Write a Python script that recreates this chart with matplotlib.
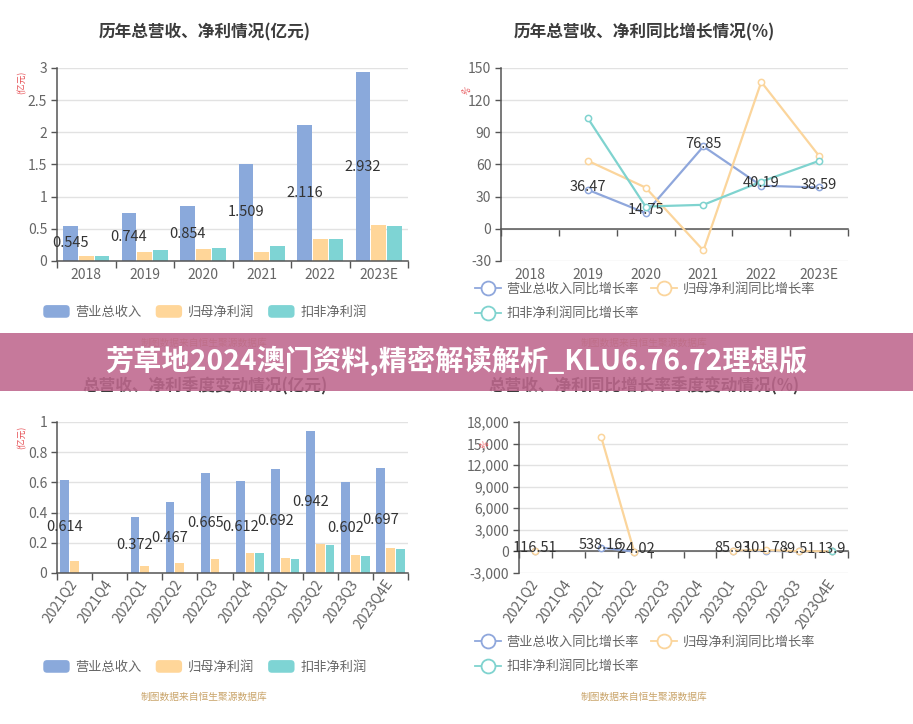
import matplotlib
matplotlib.use('Agg')
import matplotlib.pyplot as plt
import numpy as np
from matplotlib.patches import Patch, Rectangle, FancyBboxPatch
from matplotlib.lines import Line2D
from matplotlib.legend_handler import HandlerPatch
from matplotlib.ticker import FuncFormatter

plt.rcParams['font.family'] = ['Noto Sans CJK SC', 'DejaVu Sans']

# ---------------- data ----------------
years = ['2018', '2019', '2020', '2021', '2022', '2023E']
rev_year = [0.545, 0.744, 0.854, 1.509, 2.116, 2.932]
np_year = [0.078, 0.135, 0.187, 0.145, 0.343, 0.566]
dnp_year = [0.078, 0.166, 0.197, 0.234, 0.337, 0.540]

rev_yoy = [None, 36.47, 14.75, 76.85, 40.19, 38.59]
np_yoy = [None, 63.5, 38.5, -20.2, 137.0, 68.0]
dnp_yoy = [None, 103.3, 20.8, 22.4, 44.0, 63.4]

quarters = ['2021Q2', '2021Q4', '2022Q1', '2022Q2', '2022Q3', '2022Q4',
            '2023Q1', '2023Q2', '2023Q3', '2023Q4E']
rev_q = [0.614, None, 0.372, 0.467, 0.665, 0.612, 0.692, 0.942, 0.602, 0.697]
np_q = [0.078, None, 0.047, 0.064, 0.095, 0.135, 0.102, 0.190, 0.117, 0.164]
dnp_q = [None, None, None, None, None, 0.135, 0.091, 0.184, 0.111, 0.157]

rev_q_yoy = [116.51, None, 538.16, -24.02, None, None, 85.93, 101.78, -9.51, 13.9]
np_q_yoy = [60.0, None, 15900.0, -18.0, None, None, 117.0, 197.0, 23.0, 21.0]
dnp_q_yoy = [None, None, None, None, None, None, None, None, None, 16.0]

bar_names = ['营业总收入', '归母净利润', '扣非净利润']
line_names = ['营业总收入同比增长率', '归母净利润同比增长率', '扣非净利润同比增长率']
titles = ['历年总营收、净利情况(亿元)', '历年总营收、净利同比增长情况(%)',
          '总营收、净利季度变动情况(亿元)', '总营收、净利同比增长率季度变动情况(%)']
banner_text = '芳草地2024澳门资料,精密解读解析_KLU6.76.72理想版'
source_text = '制图数据来自恒生聚源数据库'

# ---------------- style ----------------
BLUE, ORANGE, TEAL = '#8aa9db', '#ffd699', '#7ed4d4'
LBLUE, LORANGE, LTEAL = '#8fa7dc', '#fbd59c', '#7fd3cf'
AXC = '#555555'
GRID = '#e2e2e2'
TICKC = '#666666'
LABC = '#333333'
TFS = 10      # tick font size
DFS = 10.5    # data label font size

W, H = 913, 724
fig = plt.figure(figsize=(W / 100, H / 100), dpi=100)


def fx(x):
    return x / W


def fy(y):
    return 1 - y / H


def add_ax(l, t, r, b):
    return fig.add_axes([l / W, 1 - b / H, (r - l) / W, (b - t) / H])


def arr(v):
    return np.array([np.nan if a is None else a for a in v], dtype=float)


def style(ax):
    for s in ['top', 'right']:
        ax.spines[s].set_visible(False)
    for s in ['left', 'bottom']:
        ax.spines[s].set_color(AXC)
        ax.spines[s].set_linewidth(1.1)
    ax.yaxis.grid(True, color=GRID, lw=1)
    ax.set_axisbelow(True)
    ax.tick_params(axis='y', length=4, width=1, color=AXC, labelsize=TFS,
                   labelcolor=TICKC, pad=3)


class RoundHandler(HandlerPatch):
    def create_artists(self, legend, orig_handle, xdescent, ydescent,
                       width, height, fontsize, trans):
        p = FancyBboxPatch((-xdescent, -ydescent), width, height,
                           boxstyle='round,pad=0,rounding_size=%f' % (height * 0.3),
                           facecolor=orig_handle.get_facecolor(), edgecolor='none',
                           transform=trans)
        return [p]


def bar_chart(ax, cats, series, ylim, yticks, width, off):
    style(ax)
    x = np.arange(len(cats))
    cols = [BLUE, ORANGE, TEAL]
    for i, (s, c) in enumerate(zip(series, cols)):
        ax.bar(x + (i - 1) * off, arr(s), width, color=c, zorder=2)
    for xi, v in zip(x, series[0]):
        if v is not None:
            ax.text(xi - off, v / 2, f'{v:g}', ha='center', va='center',
                    fontsize=DFS, color=LABC, zorder=4)
    ax.set_xlim(-0.5, len(cats) - 0.5)
    ax.set_ylim(*ylim)
    ax.set_yticks(yticks)
    ax.yaxis.set_major_formatter(FuncFormatter(lambda v, p: f'{v:g}'))
    ax.set_xticks(x)
    ax.set_xticks(np.arange(-0.5, len(cats), 1), minor=True)
    ax.tick_params(axis='x', which='minor', length=5, width=1, color=AXC)
    ax.tick_params(axis='x', which='major', length=0, labelsize=TFS,
                   labelcolor=TICKC)


def line_chart(ax, cats, series, ylim, yticks, fmt):
    style(ax)
    x = np.arange(len(cats))
    cols = [LBLUE, LORANGE, LTEAL]
    for s, c in zip(series, cols):
        ax.plot(x, arr(s), color=c, lw=1.6, marker='o', ms=4.5, mfc='white',
                mec=c, mew=1.1, zorder=3)
    for xi, v in zip(x, series[0]):
        if v is not None:
            ax.annotate(f'{v:g}', (xi, v), xytext=(0, 2), textcoords='offset points',
                        ha='center', va='center', fontsize=DFS, color=LABC, zorder=5)
    ax.set_xlim(-0.5, len(cats) - 0.5)
    ax.set_ylim(*ylim)
    ax.set_yticks(yticks)
    ax.yaxis.set_major_formatter(FuncFormatter(fmt))
    ax.spines['bottom'].set_position(('data', 0))
    ax.set_xticks(np.arange(-0.5, len(cats), 1))
    ax.tick_params(axis='x', which='major', length=5, width=1, color=AXC,
                   labelbottom=False)
    sec = ax.secondary_xaxis('bottom')
    sec.spines['bottom'].set_visible(False)
    return sec


# ---------------- top-left ----------------
ax1 = add_ax(57, 68, 408, 261)
bar_chart(ax1, years, [rev_year, np_year, dnp_year], (0, 3),
          np.arange(0, 3.01, 0.5), 0.25, 0.27)
ax1.set_xticklabels(years)
ax1.tick_params(axis='x', which='major', pad=5)

# ---------------- top-right ----------------
ax2 = add_ax(501, 68, 848, 261)
sec2 = line_chart(ax2, years, [rev_yoy, np_yoy, dnp_yoy], (-30, 150),
                  np.arange(-30, 151, 30), lambda v, p: f'{v:g}')
sec2.set_xticks(np.arange(len(years)), labels=years)
sec2.tick_params(length=0, labelsize=TFS, labelcolor=TICKC, pad=5)

# ---------------- bottom-left ----------------
ax3 = add_ax(57, 422, 408, 573)
bar_chart(ax3, quarters, [rev_q, np_q, dnp_q], (0, 1),
          np.arange(0, 1.01, 0.2), 0.25, 0.28)
ax3.set_xticklabels(quarters, rotation=55, ha='right', va='center',
                    rotation_mode='anchor')
ax3.tick_params(axis='x', which='major', pad=6, labelsize=TFS, labelcolor=TICKC)

# ---------------- bottom-right ----------------
ax4 = add_ax(519, 422, 848, 573)
sec4 = line_chart(ax4, quarters, [rev_q_yoy, np_q_yoy, dnp_q_yoy], (-3000, 18000),
                  np.arange(-3000, 18001, 3000), lambda v, p: f'{int(v):,}')
sec4.set_xticks(np.arange(len(quarters)))
sec4.set_xticklabels(quarters, rotation=55, ha='right', va='center',
                     rotation_mode='anchor')
sec4.tick_params(length=0, labelsize=TFS, labelcolor=TICKC, pad=6)

# ---------------- titles ----------------
for (cx, cy), t in zip([(205, 32), (644, 32), (205, 386), (644, 386)], titles):
    fig.text(fx(cx), fy(cy), t, ha='center', va='center', fontsize=12,
             fontweight='bold', color='#3c3c3c')

# axis names
for (cx, cy), t in zip([(22, 82), (467, 91), (22, 437), (485, 445)],
                       ['(亿元)', '%', '(亿元)', '%']):
    fig.text(fx(cx), fy(cy), t, ha='center', va='center', fontsize=6.3,
             color='#e5484d', rotation=90 if t != '%' else 45)

# ---------------- legends ----------------
bar_handles = [Patch(facecolor=c) for c in (BLUE, ORANGE, TEAL)]
for cy in (312, 667):
    fig.legend(bar_handles, bar_names, loc='center', bbox_to_anchor=(fx(205), fy(cy)),
               ncol=3, frameon=False, fontsize=9.5, labelcolor=TICKC,
               handlelength=2.0, handleheight=1.1, handletextpad=0.45,
               columnspacing=1.05, borderpad=0, borderaxespad=0,
               handler_map={Patch: RoundHandler()})

line_handles = [Line2D([], [], color=c, lw=1.3, marker='o', ms=10, mfc='white',
                       mec=c, mew=1.3) for c in (LBLUE, LORANGE, LTEAL)]
order = [0, 2, 1]
for top in (283, 636):
    fig.legend([line_handles[i] for i in order], [line_names[i] for i in order],
               loc='upper left', bbox_to_anchor=(fx(475), fy(top)), ncol=2,
               frameon=False, fontsize=9.5, labelcolor=TICKC, handlelength=2.0,
               handletextpad=0.4, columnspacing=0.9, labelspacing=0.85,
               borderpad=0, borderaxespad=0)

# ---------------- watermarks ----------------
for cx in (204, 644):
    for cy in (343, 697):
        fig.text(fx(cx), fy(cy), source_text, ha='center', va='center',
                 fontsize=7, color='#c9a46a')

# ---------------- banner ----------------
fig.add_artist(Rectangle((0, fy(391)), 1, 58 / H, transform=fig.transFigure,
                         facecolor=(190 / 255, 103 / 255, 141 / 255), alpha=0.88,
                         edgecolor='none', zorder=10))
fig.text(0.5, fy(361), banner_text, ha='center', va='center', fontsize=20.3,
         fontweight='bold', color='white', zorder=11)

fig.savefig('out.png', dpi=100, facecolor='white')
